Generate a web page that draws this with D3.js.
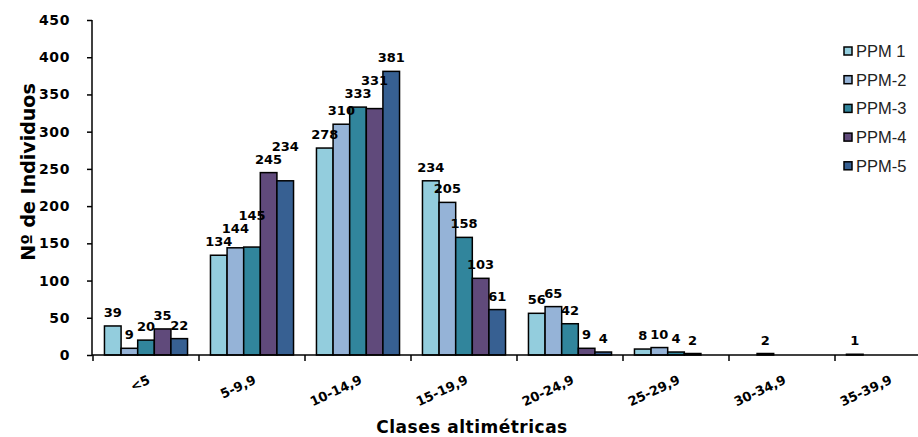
<!DOCTYPE html>
<html>
<head>
<meta charset="utf-8">
<script src="https://cdn.jsdelivr.net/npm/d3@7"></script>
<style>
  html, body { margin: 0; padding: 0; background: #fff; overflow: hidden; }
  svg { display: block; }
</style>
</head>
<body>
<svg id="chart" width="918" height="437"></svg>
<script>
// ---- data ----
const categories = ["<5", "5-9,9", "10-14,9", "15-19,9", "20-24,9", "25-29,9", "30-34,9", "35-39,9"];
const seriesNames = ["PPM 1", "PPM-2", "PPM-3", "PPM-4", "PPM-5"];
const ppm1 = [39, 134, 278, 234, 56, 8, null, 1];
const ppm2 = [9, 144, 310, 205, 65, 10, 2, null];
const ppm3 = [20, 145, 333, 158, 42, 4, null, null];
const ppm4 = [35, 245, 331, 103, 9, 2, null, null];
const ppm5 = [22, 234, 381, 61, 4, null, null, null];
const yTicks = [0, 50, 100, 150, 200, 250, 300, 350, 400, 450];
const colors = ["#93CDDD", "#95B3D7", "#31859C", "#604A7B", "#376092"];

const seriesValues = [ppm1, ppm2, ppm3, ppm4, ppm5];

const svg = d3.select("#chart");
const x0 = 93, bandW = 106;
const y = d3.scaleLinear().domain([0, 450]).range([355, 20]);
const x = d3.scaleBand().domain(categories).range([x0, x0 + bandW * categories.length]).padding(0);
const xs = d3.scaleBand().domain(seriesNames).range([0, bandW]).paddingOuter(0.69).paddingInner(0);

// bars
const flat = [];
categories.forEach((c, ci) => {
  seriesNames.forEach((s, si) => {
    const v = seriesValues[si][ci];
    if (v !== null && v !== undefined) flat.push({ c, ci, s, si, v });
  });
});

svg.append("g").selectAll("rect").data(flat).join("rect")
  .attr("x", d => x(d.c) + xs(d.s))
  .attr("y", d => y(d.v))
  .attr("width", xs.bandwidth())
  .attr("height", d => y(0) - y(d.v))
  .attr("fill", d => colors[d.si])
  .attr("stroke", "#000")
  .attr("stroke-width", 1.5);

// value label layout: above bar, raised when colliding with a neighbour
const digitW = 8.4, labelH = 11;
const placed = [];
flat.forEach(d => {
  d.lx = x(d.c) + xs(d.s) + xs.bandwidth() / 2;
  d.w = String(d.v).length * digitW;
  d.ly = y(d.v) - 9;
  let moved = true;
  while (moved) {
    moved = false;
    for (const p of placed) {
      const xo = Math.min(d.lx + d.w / 2, p.lx + p.w / 2) - Math.max(d.lx - d.w / 2, p.lx - p.w / 2);
      const yo = Math.min(d.ly, p.ly) - Math.max(d.ly - labelH, p.ly - labelH);
      if (xo > 1 && yo > 0) { d.ly = p.ly - labelH - 2; moved = true; }
    }
  }
  placed.push(d);
});

svg.append("g").selectAll("text").data(flat).join("text")
  .attr("x", d => d.lx)
  .attr("y", d => d.ly)
  .attr("text-anchor", "middle")
  .attr("font-family", "DejaVu Sans, Arial, sans-serif")
  .attr("font-weight", "bold")
  .attr("font-size", 13)
  .attr("fill", "#000")
  .text(d => d.v);

// y axis
const yAxis = svg.append("g").attr("transform", "translate(92,0)")
  .call(d3.axisLeft(y).tickValues(yTicks).tickSize(5).tickPadding(17));
yAxis.select(".domain").attr("stroke", "#000").attr("stroke-width", 1.5).attr("d", "M0,20V355");
yAxis.selectAll(".tick line").attr("stroke", "#000").attr("stroke-width", 1.5);
yAxis.selectAll("text")
  .attr("font-family", "DejaVu Sans, Arial, sans-serif")
  .attr("font-weight", "900")
  .attr("font-size", 14)
  .attr("letter-spacing", "0.6px")
  .attr("fill", "#000");

// x axis
const xAxisG = svg.append("g").attr("transform", "translate(0,355)");
xAxisG.append("line").attr("x1", 92).attr("x2", 918).attr("y1", 0).attr("y2", 0)
  .attr("stroke", "#000").attr("stroke-width", 1.5);
const bounds = categories.map(c => x(c)).concat([x(categories[categories.length - 1]) + bandW]);
xAxisG.selectAll("line.tk").data(bounds).join("line").attr("class", "tk")
  .attr("x1", d => d).attr("x2", d => d).attr("y1", 0).attr("y2", 6)
  .attr("stroke", "#000").attr("stroke-width", 1.5);
xAxisG.selectAll("text").data(categories).join("text")
  .attr("transform", d => `translate(${x(d) + bandW / 2 + 5},${28}) rotate(-25)`)
  .attr("text-anchor", "end")
  .attr("font-family", "DejaVu Sans, Arial, sans-serif")
  .attr("font-weight", "900")
  .attr("font-size", 13)
  .attr("fill", "#000")
  .text(d => d);

// axis titles
svg.append("text")
  .attr("transform", "translate(35,172) rotate(-90)")
  .attr("text-anchor", "middle")
  .attr("font-family", "DejaVu Sans, Arial, sans-serif")
  .attr("font-weight", "bold")
  .attr("font-size", 19)
  .attr("fill", "#000")
  .text("Nº de Individuos");

svg.append("text")
  .attr("x", 472).attr("y", 433)
  .attr("text-anchor", "middle")
  .attr("font-family", "DejaVu Sans, Arial, sans-serif")
  .attr("font-weight", "900")
  .attr("font-size", 17)
  .attr("letter-spacing", "0.5px")
  .attr("fill", "#000")
  .text("Clases altimétricas");

// legend
const legend = svg.append("g");
const lg = legend.selectAll("g").data(seriesNames).join("g")
  .attr("transform", (d, i) => `translate(844,${51 + i * 28.7})`);
lg.append("rect").attr("x", 0).attr("y", -4).attr("width", 8).attr("height", 8)
  .attr("fill", (d, i) => colors[i]).attr("stroke", "#000").attr("stroke-width", 1.5);
lg.append("text").attr("x", 12).attr("y", 6)
  .attr("font-family", "Liberation Sans, Arial, sans-serif")
  .attr("font-size", 16.5)
  .attr("fill", "#222")
  .text(d => d);
</script>
</body>
</html>
